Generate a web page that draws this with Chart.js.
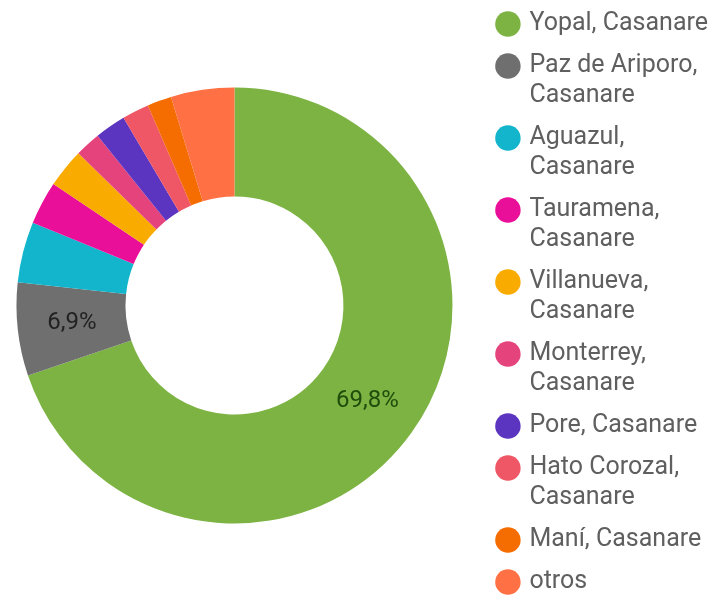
<!DOCTYPE html>
<html>
<head>
<meta charset="utf-8">
<script src="https://cdn.jsdelivr.net/npm/chart.js@4"></script>
<style>
	html, body { margin: 0; padding: 0; background: #ffffff; overflow: hidden; }
	body { width: 715px; height: 597px; position: relative; }
	/* canvas a bit larger than the window so the ring sits where the original has it */
	#wrap { position: absolute; left: -18px; top: -3px; width: 736px; height: 617px; }
</style>
</head>
<body>
<div id="wrap"><canvas id="municipios"></canvas></div>
<script>
// municipios (legend lines) and share of total in %
var MUNICIPIOS = [
	['Yopal, Casanare'],
	['Paz de Ariporo,', 'Casanare'],
	['Aguazul,', 'Casanare'],
	['Tauramena,', 'Casanare'],
	['Villanueva,', 'Casanare'],
	['Monterrey,', 'Casanare'],
	['Pore, Casanare'],
	['Hato Corozal,', 'Casanare'],
	['Maní, Casanare'],
	['otros']
];
var PARTICIPACION = [69.8, 6.9, 4.5, 3.2, 2.9, 1.9, 2.3, 2.0, 1.8, 4.7];

var COLORS = ['#7cb342', '#6f6f6f', '#12b5cb', '#ea0f98', '#f9ab00',
	'#e5437c', '#5b34c0', '#f05766', '#f56d00', '#ff7145'];
var LABEL_COLORS = ['#1f4d0c', '#222222'];

function pctFormat(v) {
	return v.toFixed(1).replace('.', ',') + '%';
}

// draws the % inside the bigger slices
var sliceLabels = {
	id: 'sliceLabels',
	afterDatasetsDraw: function (chart) {
		var ctx = chart.ctx;
		var meta = chart.getDatasetMeta(0);
		ctx.save();
		ctx.font = '24px Roboto';
		ctx.textAlign = 'center';
		ctx.textBaseline = 'middle';
		meta.data.forEach(function (arc, i) {
			var v = PARTICIPACION[i];
			if (v < 5) return;
			var p = arc.getCenterPoint();
			ctx.fillStyle = LABEL_COLORS[i] || '#222222';
			ctx.fillText(pctFormat(v), p.x, p.y);
		});
		ctx.restore();
	}
};

var municipiosCtx = document.getElementById('municipios');

var municipiosChart = new Chart(municipiosCtx, {
	type: 'doughnut',
	data: {
		labels: MUNICIPIOS,
		datasets: [{
			data: PARTICIPACION,
			backgroundColor: COLORS,
			borderWidth: 0,
			radius: 218,
			cutout: '50%'
		}]
	},
	options: {
		responsive: true,
		maintainAspectRatio: false,
		animation: false,
		layout: {
			padding: 0
		},
		plugins: {
			tooltip: { enabled: false },
			legend: {
				display: true,
				position: 'right',
				labels: {
					usePointStyle: true,
					pointStyle: 'circle',
					boxWidth: 18,
					boxHeight: 18,
					padding: 12,
					color: '#5f5f5f',
					font: { family: 'Roboto', size: 25, lineHeight: 1.2 }
				}
			}
		}
	},
	plugins: [sliceLabels]
});
</script>
</body>
</html>
